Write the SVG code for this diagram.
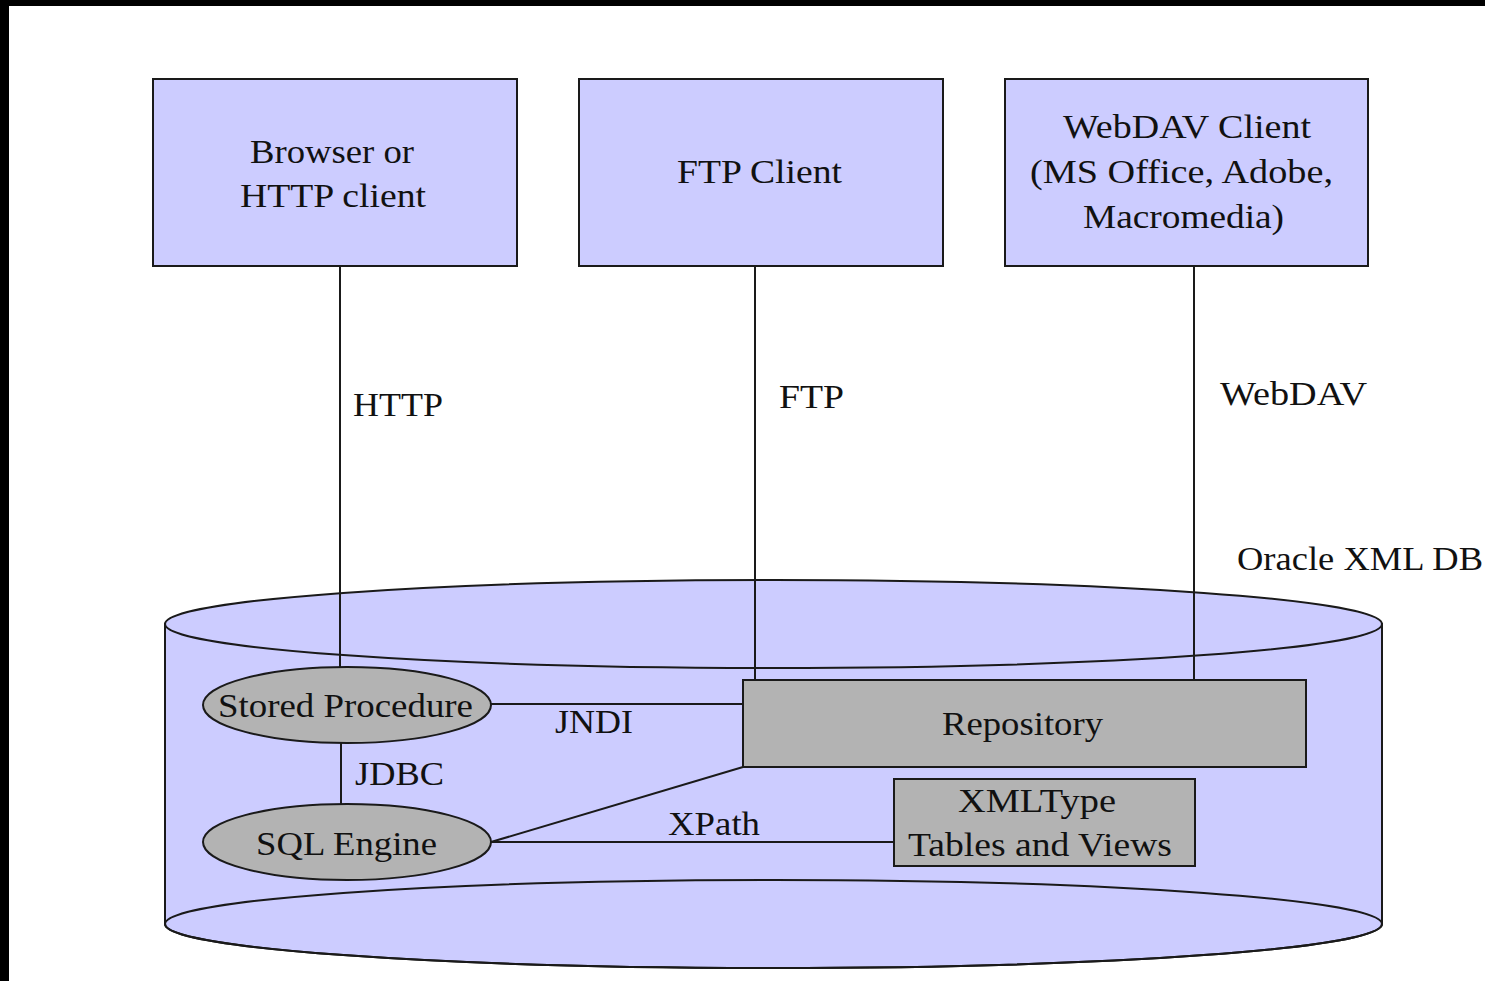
<svg xmlns="http://www.w3.org/2000/svg" width="1485" height="981" viewBox="0 0 1485 981">
<style>
.box{fill:#ccccff;stroke:#1a1a1a;stroke-width:2}
.gray{fill:#b3b3b3;stroke:#1a1a1a;stroke-width:2}
.ln{fill:none;stroke:#1a1a1a;stroke-width:2}
text{font-family:'Liberation Serif','Times New Roman',Times,'DejaVu Serif',serif;font-size:34px;fill:#111}
</style>
<rect x="0" y="0" width="1485" height="981" fill="#ffffff"/>
<rect x="0" y="0" width="1485" height="6" fill="#000"/>
<rect x="0" y="0" width="9" height="981" fill="#000"/>

<g id="browser">
<rect class="box" x="153" y="79" width="364" height="187"/>
<text x="250" y="163" textLength="164" lengthAdjust="spacingAndGlyphs">Browser or</text>
<text x="240" y="207" textLength="186" lengthAdjust="spacingAndGlyphs">HTTP client</text>
</g>
<g id="ftp-client">
<rect class="box" x="579" y="79" width="364" height="187"/>
<text x="677" y="183" textLength="165" lengthAdjust="spacingAndGlyphs">FTP Client</text>
</g>
<g id="webdav-client">
<rect class="box" x="1005" y="79" width="363" height="187"/>
<text x="1063" y="138" textLength="248" lengthAdjust="spacingAndGlyphs">WebDAV Client</text>
<text x="1030" y="183" textLength="303" lengthAdjust="spacingAndGlyphs">(MS Office, Adobe,</text>
<text x="1083" y="228" textLength="201" lengthAdjust="spacingAndGlyphs">Macromedia)</text>
</g>

<g id="oracle-xml-db">
<path class="box" d="M165,624 L165,924 A608.5,44 0 0 0 1382,924 L1382,624 Z"/>
<ellipse class="box" cx="773.5" cy="624" rx="608.5" ry="44"/>
<ellipse class="ln" cx="773.5" cy="924" rx="608.5" ry="44"/>
<text x="1237" y="570" textLength="246" lengthAdjust="spacingAndGlyphs">Oracle XML DB</text>
</g>

<g id="connectors">
<line class="ln" x1="340" y1="266" x2="340" y2="667"/>
<line class="ln" x1="755" y1="266" x2="755" y2="680"/>
<line class="ln" x1="1194" y1="266" x2="1194" y2="680"/>
<line class="ln" x1="341" y1="743" x2="341" y2="804"/>
<line class="ln" x1="491" y1="704" x2="743" y2="704"/>
<line class="ln" x1="491" y1="842" x2="743" y2="767"/>
<line class="ln" x1="491" y1="842" x2="894" y2="842"/>
<text x="353" y="416" textLength="90" lengthAdjust="spacingAndGlyphs">HTTP</text>
<text x="779" y="408" textLength="65" lengthAdjust="spacingAndGlyphs">FTP</text>
<text x="1220" y="405" textLength="147" lengthAdjust="spacingAndGlyphs">WebDAV</text>
<text x="555" y="733" textLength="78" lengthAdjust="spacingAndGlyphs">JNDI</text>
<text x="355" y="785" textLength="89" lengthAdjust="spacingAndGlyphs">JDBC</text>
<text x="668" y="835" textLength="92" lengthAdjust="spacingAndGlyphs">XPath</text>
</g>

<g id="stored-procedure">
<ellipse class="gray" cx="347" cy="705" rx="144" ry="38"/>
<text x="218" y="717" textLength="255" lengthAdjust="spacingAndGlyphs">Stored Procedure</text>
</g>
<g id="sql-engine">
<ellipse class="gray" cx="347" cy="842" rx="144" ry="38"/>
<text x="256" y="855" textLength="181" lengthAdjust="spacingAndGlyphs">SQL Engine</text>
</g>
<g id="repository">
<rect class="gray" x="743" y="680" width="563" height="87"/>
<text x="942" y="735" textLength="161" lengthAdjust="spacingAndGlyphs">Repository</text>
</g>
<g id="xmltype">
<rect class="gray" x="894" y="779" width="301" height="87"/>
<text x="958" y="812" textLength="158" lengthAdjust="spacingAndGlyphs">XMLType</text>
<text x="908" y="856" textLength="264" lengthAdjust="spacingAndGlyphs">Tables and Views</text>
</g>
</svg>
